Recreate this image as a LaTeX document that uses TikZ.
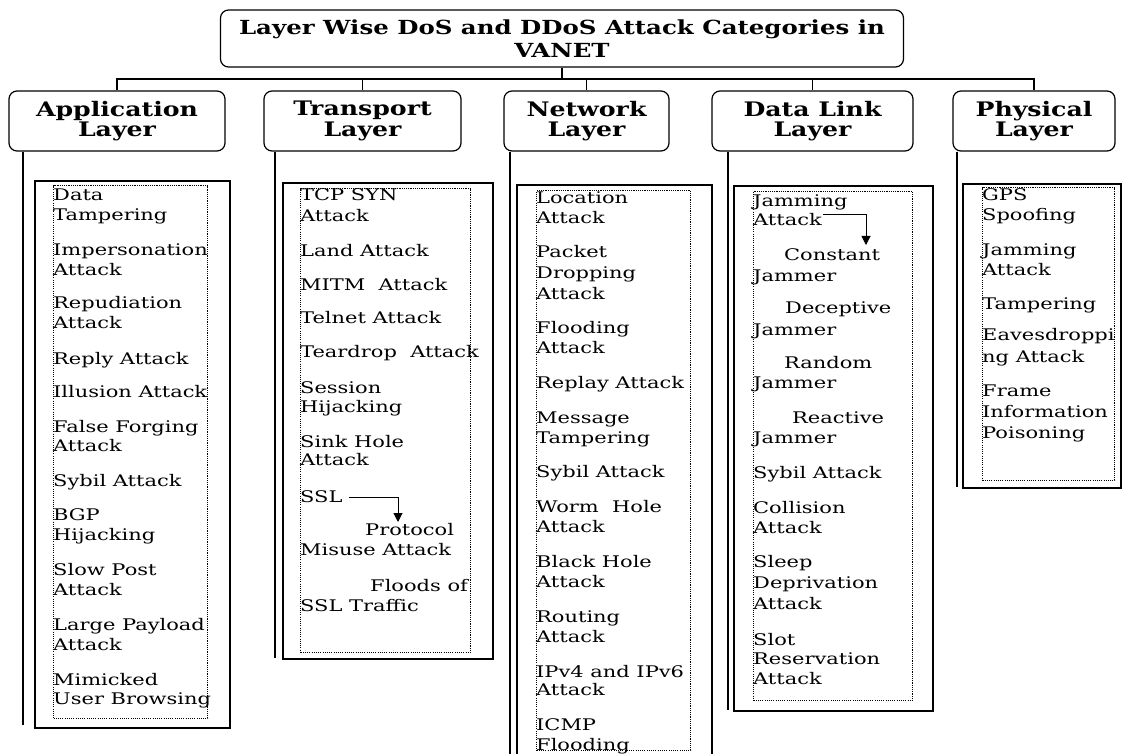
\documentclass[tikz,border=0pt]{standalone}
\usepackage{fontspec}
\setmainfont{DejaVu Serif}[FakeStretch=1.31]
\newfontfamily\hdfont{DejaVu Serif}[FakeStretch=1.26]
\usetikzlibrary{arrows.meta,calc}
\begin{document}
\begin{tikzpicture}[x=1pt,y=-1pt,
  hd/.style={draw, line width=1.2pt, rounded corners=8pt, inner sep=0pt, align=center,
     font=\hdfont\bfseries\fontsize{20}{20.5}\selectfont},
  ttl/.style={hd, font=\hdfont\bfseries\fontsize{19.4}{22.5}\selectfont},
  lst/.style={inner sep=0pt, anchor=west, text height=11pt, text depth=0pt,
     font=\fontsize{16}{20}\selectfont},
  outerbox/.style={draw, line width=1.8pt, inner sep=0pt, anchor=north west},
  innerbox/.style={draw, line width=1.1pt, dash pattern=on 1.1pt off 1.1pt, inner sep=0pt, anchor=north west},
  conn/.style={line width=1.4pt},
  arr/.style={line width=1pt, -{Triangle[width=9pt,length=9pt]}}]
\useasboundingbox[fill=white] (0,0) rectangle (1125,754);

% title and headers
\node[ttl, minimum width=683pt, minimum height=57pt] (title) at (562,38.5)
  {Layer Wise DoS and DDoS Attack Categories in\\VANET};
\node[hd, minimum width=216pt, minimum height=60pt] (appH) at (117,121) {Application\\Layer};
\node[hd, minimum width=197pt, minimum height=60pt] (traH) at (362.5,121) {Transport\\Layer};
\node[hd, minimum width=165pt, minimum height=60pt] (netH) at (586.5,121) {Network\\Layer};
\node[hd, minimum width=201pt, minimum height=60pt] (dlH) at (812.5,121) {Data Link\\Layer};
\node[hd, minimum width=162pt, minimum height=60pt] (phyH) at (1034,121) {Physical\\Layer};

\coordinate (bus) at (562,79);
\draw[conn] (title.south) -- (bus);
\foreach \h in {appH,traH,netH,dlH,phyH}
  \draw[conn] (\h.north) |- (bus);

% outer and inner list boxes
\node[outerbox, minimum width=195pt, minimum height=547pt] (appO) at (34,180) {};
\node[innerbox, minimum width=154pt, minimum height=533pt] (appI) at (53,185) {};
\node[outerbox, minimum width=210pt, minimum height=476pt] (traO) at (282,182) {};
\node[innerbox, minimum width=170pt, minimum height=464pt] (traI) at (300,188) {};
\node[outerbox, minimum width=195pt, minimum height=590pt] (netO) at (516,184) {};
\node[innerbox, minimum width=154pt, minimum height=560pt] (netI) at (536,190) {};
\node[outerbox, minimum width=199pt, minimum height=525pt] (dlO) at (733,185) {};
\node[innerbox, minimum width=159pt, minimum height=509pt] (dlI) at (753,191) {};
\node[outerbox, minimum width=158pt, minimum height=304pt] (phyO) at (962,183) {};
\node[innerbox, minimum width=132pt, minimum height=293pt] (phyI) at (982,187) {};

% vertical lines from the headers
\coordinate (appE) at (23,725);
\coordinate (traE) at (275,658);
\coordinate (netE) at (510,760);
\coordinate (dlE) at (728,710);
\coordinate (phyE) at (957,487);
\draw[conn] (appH.south -| appE) -- (appE);
\draw[conn] (traH.south -| traE) -- (traE);
\draw[conn] (netH.south -| netE) -- (netE);
\draw[conn] (dlH.south -| dlE) -- (dlE);
\draw[conn] (phyH.south -| phyE) -- (phyE);

% Application list
\foreach \x/\y/\t [count=\i] in {53/195/Data, 53/215/Tampering, 53/250/Impersonation,
  53/270/Attack, 53/303/Repudiation, 53/323/Attack, 53/359/Reply Attack,
  53/392/Illusion Attack, 53/427/False Forging, 53/446/Attack, 53/481/Sybil Attack,
  53/515/BGP, 53/535/Hijacking, 53/570/Slow Post, 53/590/Attack, 53/625/Large Payload,
  53/645/Attack, 53/680/Mimicked, 53/699/User Browsing}
  \node[lst] (app\i) at (\x,\y) {\t};

% Transport list
\foreach \x/\y/\t [count=\i] in {300/195/TCP SYN, 300/216/Attack, 300/251/Land Attack,
  300/285/MITM\ \ Attack, 300/318/Telnet Attack, 300/352/Teardrop\ \ Attack,
  300/388/Session, 300/407/Hijacking, 300/442/Sink Hole, 300/460/Attack,
  300/497/SSL, 365/530/Protocol, 300/550/Misuse Attack, 370/586/Floods of,
  300/606/SSL Traffic}
  \node[lst] (tra\i) at (\x,\y) {\t};

% Network list
\foreach \x/\y/\t [count=\i] in {536/198/Location, 536/218/Attack, 536/252/Packet,
  536/273/Dropping, 536/294/Attack, 536/328/Flooding, 536/348/Attack,
  536/383/Replay Attack, 536/418/Message, 536/438/Tampering, 536/472/Sybil Attack,
  536/507/Worm\ \ Hole, 536/527/Attack, 536/562/Black Hole, 536/582/Attack,
  536/617/Routing, 536/637/Attack, 536/672/IPv4 and IPv6, 536/690/Attack,
  536/725/ICMP, 536/745/Flooding}
  \node[lst] (net\i) at (\x,\y) {\t};

% Data Link list
\foreach \x/\y/\t [count=\i] in {753/201/Jamming, 753/220/Attack, 784/255/Constant,
  753/276/Jammer, 785/308/Deceptive, 753/330/Jammer, 784/363/Random, 753/383/Jammer,
  792/418/Reactive, 753/438/Jammer, 753/473/Sybil Attack, 753/508/Collision,
  753/528/Attack, 753/562/Sleep, 753/583/Deprivation, 753/604/Attack, 753/640/Slot,
  753/659/Reservation, 753/679/Attack}
  \node[lst] (dl\i) at (\x,\y) {\t};

% Physical list
\foreach \x/\y/\t [count=\i] in {982/195/GPS, 982/215/Spoofing, 982/250/Jamming,
  982/270/Attack, 982/304/Tampering, 982/335/Eavesdroppi, 982/357/ng Attack,
  982/391/Frame, 982/412/Information, 982/433/Poisoning}
  \node[lst] (phy\i) at (\x,\y) {\t};

% arrows
\coordinate (sslTip) at (398,522);
\draw[arr] ([xshift=6pt]tra11.east) -| (sslTip);
\coordinate (dlTip) at (866,245);
\draw[arr] ([xshift=1pt,yshift=5pt]dl2.east) -| (dlTip);
\end{tikzpicture}
\end{document}
